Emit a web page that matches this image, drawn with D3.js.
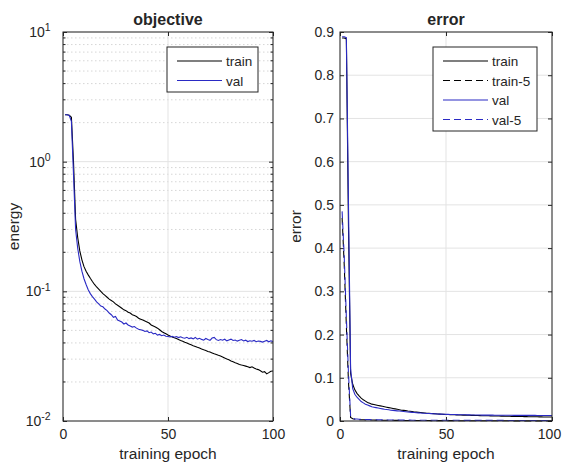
<!DOCTYPE html>
<html>
<head>
<meta charset="utf-8">
<script src="https://cdn.jsdelivr.net/npm/d3@7"></script>
<style>
  body { margin: 0; background: #fff; }
  text { font-family: "Liberation Sans", Arial, sans-serif; fill: #262626; }
</style>
</head>
<body>
<div id="chart"></div>
<script>
// chart values
const epochs = d3.range(1, 101)

const objTrain = [2.30,2.30,2.28,2.20,1.00,0.36,0.26,0.205,0.175,0.155,
  0.143,0.134,0.126,0.119,0.113,0.108,0.104,0.100,0.096,0.093,
  0.090,0.087,0.085,0.083,0.080,0.078,0.076,0.074,0.072,0.071,
  0.069,0.068,0.066,0.065,0.064,0.062,0.061,0.060,0.059,0.058,
  0.057,0.055,0.054,0.053,0.052,0.0505,0.049,0.048,0.047,0.046,
  0.0452,0.0445,0.0438,0.0432,0.0425,0.0418,0.0412,0.0405,0.0399,0.0393,
  0.0387,0.0381,0.0376,0.0370,0.0365,0.0359,0.0354,0.0350,0.0344,0.0340,
  0.0335,0.0330,0.0326,0.0321,0.0317,0.0312,0.0306,0.0301,0.0297,0.0290,
  0.0286,0.0281,0.0278,0.0273,0.0270,0.0268,0.0265,0.0262,0.0258,0.0262,
  0.0256,0.0252,0.0249,0.0244,0.0238,0.0240,0.0231,0.0236,0.0242,0.0243]

const objVal = [2.30,2.30,2.27,2.05,0.80,0.30,0.215,0.170,0.143,0.125,
  0.113,0.103,0.096,0.091,0.087,0.083,0.080,0.077,0.076,0.073,
  0.071,0.068,0.066,0.063,0.064,0.060,0.059,0.058,0.056,0.057,
  0.055,0.054,0.053,0.0535,0.052,0.051,0.0505,0.050,0.049,0.0495,
  0.048,0.0485,0.047,0.0475,0.046,0.0465,0.0455,0.046,0.045,0.0448,
  0.0445,0.0450,0.0443,0.0448,0.0440,0.0446,0.0438,0.0435,0.0442,0.0432,
  0.0437,0.0430,0.0441,0.0428,0.0434,0.0426,0.0420,0.0433,0.0425,0.0419,
  0.0436,0.0441,0.0424,0.0418,0.0425,0.0420,0.0427,0.0415,0.0422,0.0428,
  0.0418,0.0421,0.0413,0.0419,0.0425,0.0414,0.0420,0.0410,0.0416,0.0412,
  0.0418,0.0409,0.0414,0.0411,0.0406,0.0412,0.0418,0.0408,0.0415,0.0410]

const errTrain = [0.886,0.886,0.884,0.45,0.11,0.085,0.072,0.064,0.058,0.053,
  0.049,0.046,0.043,0.041,0.039,0.038,0.037,0.036,0.035,0.034,
  0.033,0.032,0.031,0.030,0.029,0.028,0.027,0.026,0.025,0.0245,
  0.024,0.023,0.0225,0.022,0.021,0.0205,0.020,0.0195,0.019,0.0185,
  0.018,0.0177,0.0173,0.017,0.0167,0.0163,0.016,0.0157,0.0154,0.0152,
  0.0150,0.0148,0.0146,0.0144,0.0142,0.0140,0.0138,0.0137,0.0135,0.0133,
  0.0132,0.0130,0.0129,0.0127,0.0126,0.0125,0.0123,0.0122,0.0121,0.0120,
  0.0118,0.0117,0.0116,0.0115,0.0114,0.0113,0.0112,0.0111,0.0110,0.0109,
  0.0108,0.0107,0.0106,0.0105,0.0104,0.0103,0.0102,0.0101,0.0100,0.0099,
  0.0098,0.0097,0.0097,0.0096,0.0095,0.0094,0.0093,0.0093,0.0092,0.0091]

const errTrain5 = [0.47,0.36,0.22,0.09,0.008,0.005,0.004,0.0036,0.0033,0.0030,
  0.0028,0.0027,0.0025,0.0024,0.0023,0.0022,0.0021,0.0020,0.0019,0.0019,
  0.0018,0.0017,0.0017,0.0016,0.0016,0.0015,0.0015,0.0014,0.0014,0.0013,
  0.0013,0.0013,0.0012,0.0012,0.0012,0.0011,0.0011,0.0011,0.0010,0.0010,
  0.0010,0.0010,0.0009,0.0009,0.0009,0.0009,0.0009,0.0008,0.0008,0.0008,
  0.0008,0.0008,0.0008,0.0007,0.0007,0.0007,0.0007,0.0007,0.0007,0.0007,
  0.0006,0.0006,0.0006,0.0006,0.0006,0.0006,0.0006,0.0006,0.0006,0.0005,
  0.0005,0.0005,0.0005,0.0005,0.0005,0.0005,0.0005,0.0005,0.0005,0.0005,
  0.0005,0.0004,0.0004,0.0004,0.0004,0.0004,0.0004,0.0004,0.0004,0.0004,
  0.0004,0.0004,0.0004,0.0004,0.0004,0.0004,0.0004,0.0004,0.0004,0.0004]

const errVal = [0.889,0.889,0.887,0.50,0.12,0.075,0.062,0.055,0.050,0.045,
  0.042,0.039,0.037,0.035,0.033,0.032,0.031,0.030,0.029,0.028,
  0.027,0.0265,0.026,0.025,0.0245,0.024,0.0235,0.023,0.0225,0.022,
  0.0215,0.021,0.0205,0.020,0.0196,0.0192,0.0188,0.0185,0.0181,0.0178,
  0.0175,0.0172,0.017,0.0167,0.0165,0.0162,0.016,0.0158,0.0156,0.0154,
  0.0153,0.0151,0.0150,0.0149,0.0147,0.0146,0.0145,0.0144,0.0143,0.0142,
  0.0141,0.0140,0.0140,0.0139,0.0138,0.0138,0.0137,0.0137,0.0136,0.0136,
  0.0135,0.0135,0.0134,0.0134,0.0134,0.0133,0.0133,0.0133,0.0132,0.0132,
  0.0132,0.0131,0.0131,0.0131,0.0130,0.0130,0.0130,0.0130,0.0129,0.0129,
  0.0129,0.0129,0.0128,0.0128,0.0128,0.0128,0.0127,0.0127,0.0127,0.0127]

const errVal5 = [0.485,0.38,0.24,0.11,0.012,0.006,0.005,0.0045,0.0041,0.0038,
  0.0036,0.0034,0.0032,0.0031,0.0030,0.0029,0.0028,0.0027,0.0026,0.0026,
  0.0025,0.0024,0.0024,0.0023,0.0023,0.0022,0.0022,0.0021,0.0021,0.0021,
  0.0020,0.0020,0.0020,0.0019,0.0019,0.0019,0.0019,0.0018,0.0018,0.0018,
  0.0018,0.0018,0.0017,0.0017,0.0017,0.0017,0.0017,0.0017,0.0016,0.0016,
  0.0016,0.0016,0.0016,0.0016,0.0016,0.0016,0.0015,0.0015,0.0015,0.0015,
  0.0015,0.0015,0.0015,0.0015,0.0015,0.0015,0.0014,0.0014,0.0014,0.0014,
  0.0014,0.0014,0.0014,0.0014,0.0014,0.0014,0.0014,0.0014,0.0013,0.0013,
  0.0013,0.0013,0.0013,0.0013,0.0013,0.0013,0.0013,0.0013,0.0013,0.0013,
  0.0013,0.0013,0.0013,0.0013,0.0013,0.0013,0.0013,0.0013,0.0013,0.0013]

const xTicks = [0, 50, 100]
const logTicks = [0.01, 0.1, 1, 10]
const logTickExp = ["-2", "-1", "0", "1"]
const errTicks = [0, 0.1, 0.2, 0.3, 0.4, 0.5, 0.6, 0.7, 0.8, 0.9]

const width = 563
const height = 468
const blue = "#2a2ac4"
const axisColor = "#262626"
const gridColor = "#e3e3e3"

const svg = d3.select("#chart")
  .append("svg")
    .attr("width", width)
    .attr("height", height)

// one panel: frame, grid, ticks, labels
function panel(box, y, opts) {
  const x = d3.scaleLinear().domain([0, 100]).range([box.x0, box.x1])
  const g = svg.append("g")

  // minor grid for the log axis
  if (opts.minor) {
    g.append("g").selectAll("line")
      .data(y.ticks().filter(v => logTicks.indexOf(v) < 0))
      .join("line")
        .attr("x1", box.x0).attr("x2", box.x1)
        .attr("y1", d => y(d)).attr("y2", d => y(d))
        .attr("stroke", "#d6d6d6")
        .attr("stroke-dasharray", "1.5,2.5")
  }
  // major grid
  g.append("g").selectAll("line")
    .data(opts.yTicks)
    .join("line")
      .attr("x1", box.x0).attr("x2", box.x1)
      .attr("y1", d => y(d)).attr("y2", d => y(d))
      .attr("stroke", gridColor)
  g.append("g").selectAll("line")
    .data(xTicks)
    .join("line")
      .attr("x1", d => x(d)).attr("x2", d => x(d))
      .attr("y1", box.y0).attr("y2", box.y1)
      .attr("stroke", gridColor)

  // inward ticks on all four sides
  const bottom = g.append("g")
    .attr("transform", `translate(0,${box.y1})`)
    .call(d3.axisBottom(x).tickValues(xTicks).tickSize(-4).tickPadding(8))
  g.append("g")
    .attr("transform", `translate(0,${box.y0})`)
    .call(d3.axisTop(x).tickValues(xTicks).tickSize(-4).tickFormat(""))
  const leftAx = d3.axisLeft(y).tickValues(opts.yTicks).tickSize(-4).tickPadding(6)
  const rightAx = d3.axisRight(y).tickValues(opts.yTicks).tickSize(-4).tickFormat("")
  if (opts.minor) {
    leftAx.tickFormat((d, i) => "10")
  } else {
    leftAx.tickFormat(d3.format(".1~f"))
  }
  const left = g.append("g")
    .attr("transform", `translate(${box.x0},0)`)
    .call(leftAx)
  g.append("g")
    .attr("transform", `translate(${box.x1},0)`)
    .call(rightAx)
  if (opts.minor) {
    const minorTicks = y.ticks().filter(v => logTicks.indexOf(v) < 0)
    g.append("g").selectAll("line")
      .data(minorTicks)
      .join("line")
        .attr("x1", box.x0).attr("x2", box.x0 + 2.5)
        .attr("y1", d => y(d)).attr("y2", d => y(d))
        .attr("stroke", axisColor)
    g.append("g").selectAll("line")
      .data(minorTicks)
      .join("line")
        .attr("x1", box.x1).attr("x2", box.x1 - 2.5)
        .attr("y1", d => y(d)).attr("y2", d => y(d))
        .attr("stroke", axisColor)
    left.selectAll(".tick text")
      .attr("dx", "-0.45em")
      .append("tspan")
        .attr("dy", "-0.55em")
        .attr("font-size", "10.5px")
        .text((d, i) => logTickExp[i])
  }

  g.selectAll(".domain").remove()
  g.selectAll(".tick line").attr("stroke", axisColor)
  g.selectAll(".tick text")
    .attr("font-size", "14px")
    .attr("fill", axisColor)
    .attr("font-family", "Liberation Sans, Arial, sans-serif")
  // keep the last x label inside the window
  bottom.selectAll(".tick text")
    .filter(d => d === 100)
    .attr("dx", opts.lastDx)

  // lines
  opts.series.forEach(s => {
    g.append("path")
      .datum(s.values)
      .attr("fill", "none")
      .attr("stroke", s.color)
      .attr("stroke-width", 1.1)
      .attr("stroke-dasharray", s.dash ? "7,4" : null)
      .attr("d", d3.line()
        .x((d, i) => x(epochs[i]))
        .y(d => y(d)))
  })

  // frame
  g.append("rect")
    .attr("x", box.x0).attr("y", box.y0)
    .attr("width", box.x1 - box.x0).attr("height", box.y1 - box.y0)
    .attr("fill", "none")
    .attr("stroke", axisColor)

  // title and labels
  g.append("text")
    .attr("x", (box.x0 + box.x1) / 2).attr("y", box.y0 - 7)
    .attr("text-anchor", "middle")
    .attr("font-size", "16px")
    .attr("font-weight", "bold")
    .attr("fill", "#000")
    .text(opts.title)
  g.append("text")
    .attr("x", (box.x0 + box.x1) / 2).attr("y", 459)
    .attr("text-anchor", "middle")
    .attr("font-size", "15.5px")
    .text("training epoch")
  g.append("text")
    .attr("transform", `translate(${opts.ylabelX},${(box.y0 + box.y1) / 2}) rotate(-90)`)
    .attr("text-anchor", "middle")
    .attr("font-size", "15.5px")
    .text(opts.ylabel)

  // legend
  const lg = g.append("g")
    .attr("transform", `translate(${opts.legend.x},${opts.legend.y})`)
  lg.append("rect")
    .attr("width", opts.legend.w)
    .attr("height", 6 + opts.series.length * 19.5)
    .attr("fill", "#fff")
    .attr("stroke", axisColor)
  const items = lg.selectAll(".legend-item")
    .data(opts.series)
    .join("g")
      .attr("class", "legend-item")
      .attr("transform", (d, i) => `translate(0,${14 + i * 19.5})`)
  items.append("line")
    .attr("x1", 10).attr("x2", 55)
    .attr("stroke", d => d.color)
    .attr("stroke-width", 1.2)
    .attr("stroke-dasharray", d => d.dash ? "7,4" : null)
  items.append("text")
    .attr("x", 59).attr("y", 5)
    .attr("font-size", "13.5px")
    .attr("fill", "#000")
    .text(d => d.name)
}

const yObj = d3.scaleLog().domain([0.01, 10]).range([421, 32])
panel({x0: 63, x1: 273, y0: 32, y1: 421}, yObj, {
  title: "objective",
  ylabel: "energy",
  ylabelX: 19,
  minor: true,
  lastDx: 0,
  yTicks: logTicks,
  legend: {x: 167, y: 47, w: 91},
  series: [
    {name: "train", values: objTrain, color: "#000"},
    {name: "val", values: objVal, color: blue}
  ]
})

const yErr = d3.scaleLinear().domain([0, 0.9]).range([421, 32])
panel({x0: 340, x1: 552, y0: 32, y1: 421}, yErr, {
  title: "error",
  ylabel: "error",
  ylabelX: 301,
  minor: false,
  lastDx: -3,
  yTicks: errTicks,
  legend: {x: 433, y: 47, w: 104},
  series: [
    {name: "train", values: errTrain, color: "#000"},
    {name: "train-5", values: errTrain5, color: "#000", dash: true},
    {name: "val", values: errVal, color: blue},
    {name: "val-5", values: errVal5, color: blue, dash: true}
  ]
})
</script>
</body>
</html>
